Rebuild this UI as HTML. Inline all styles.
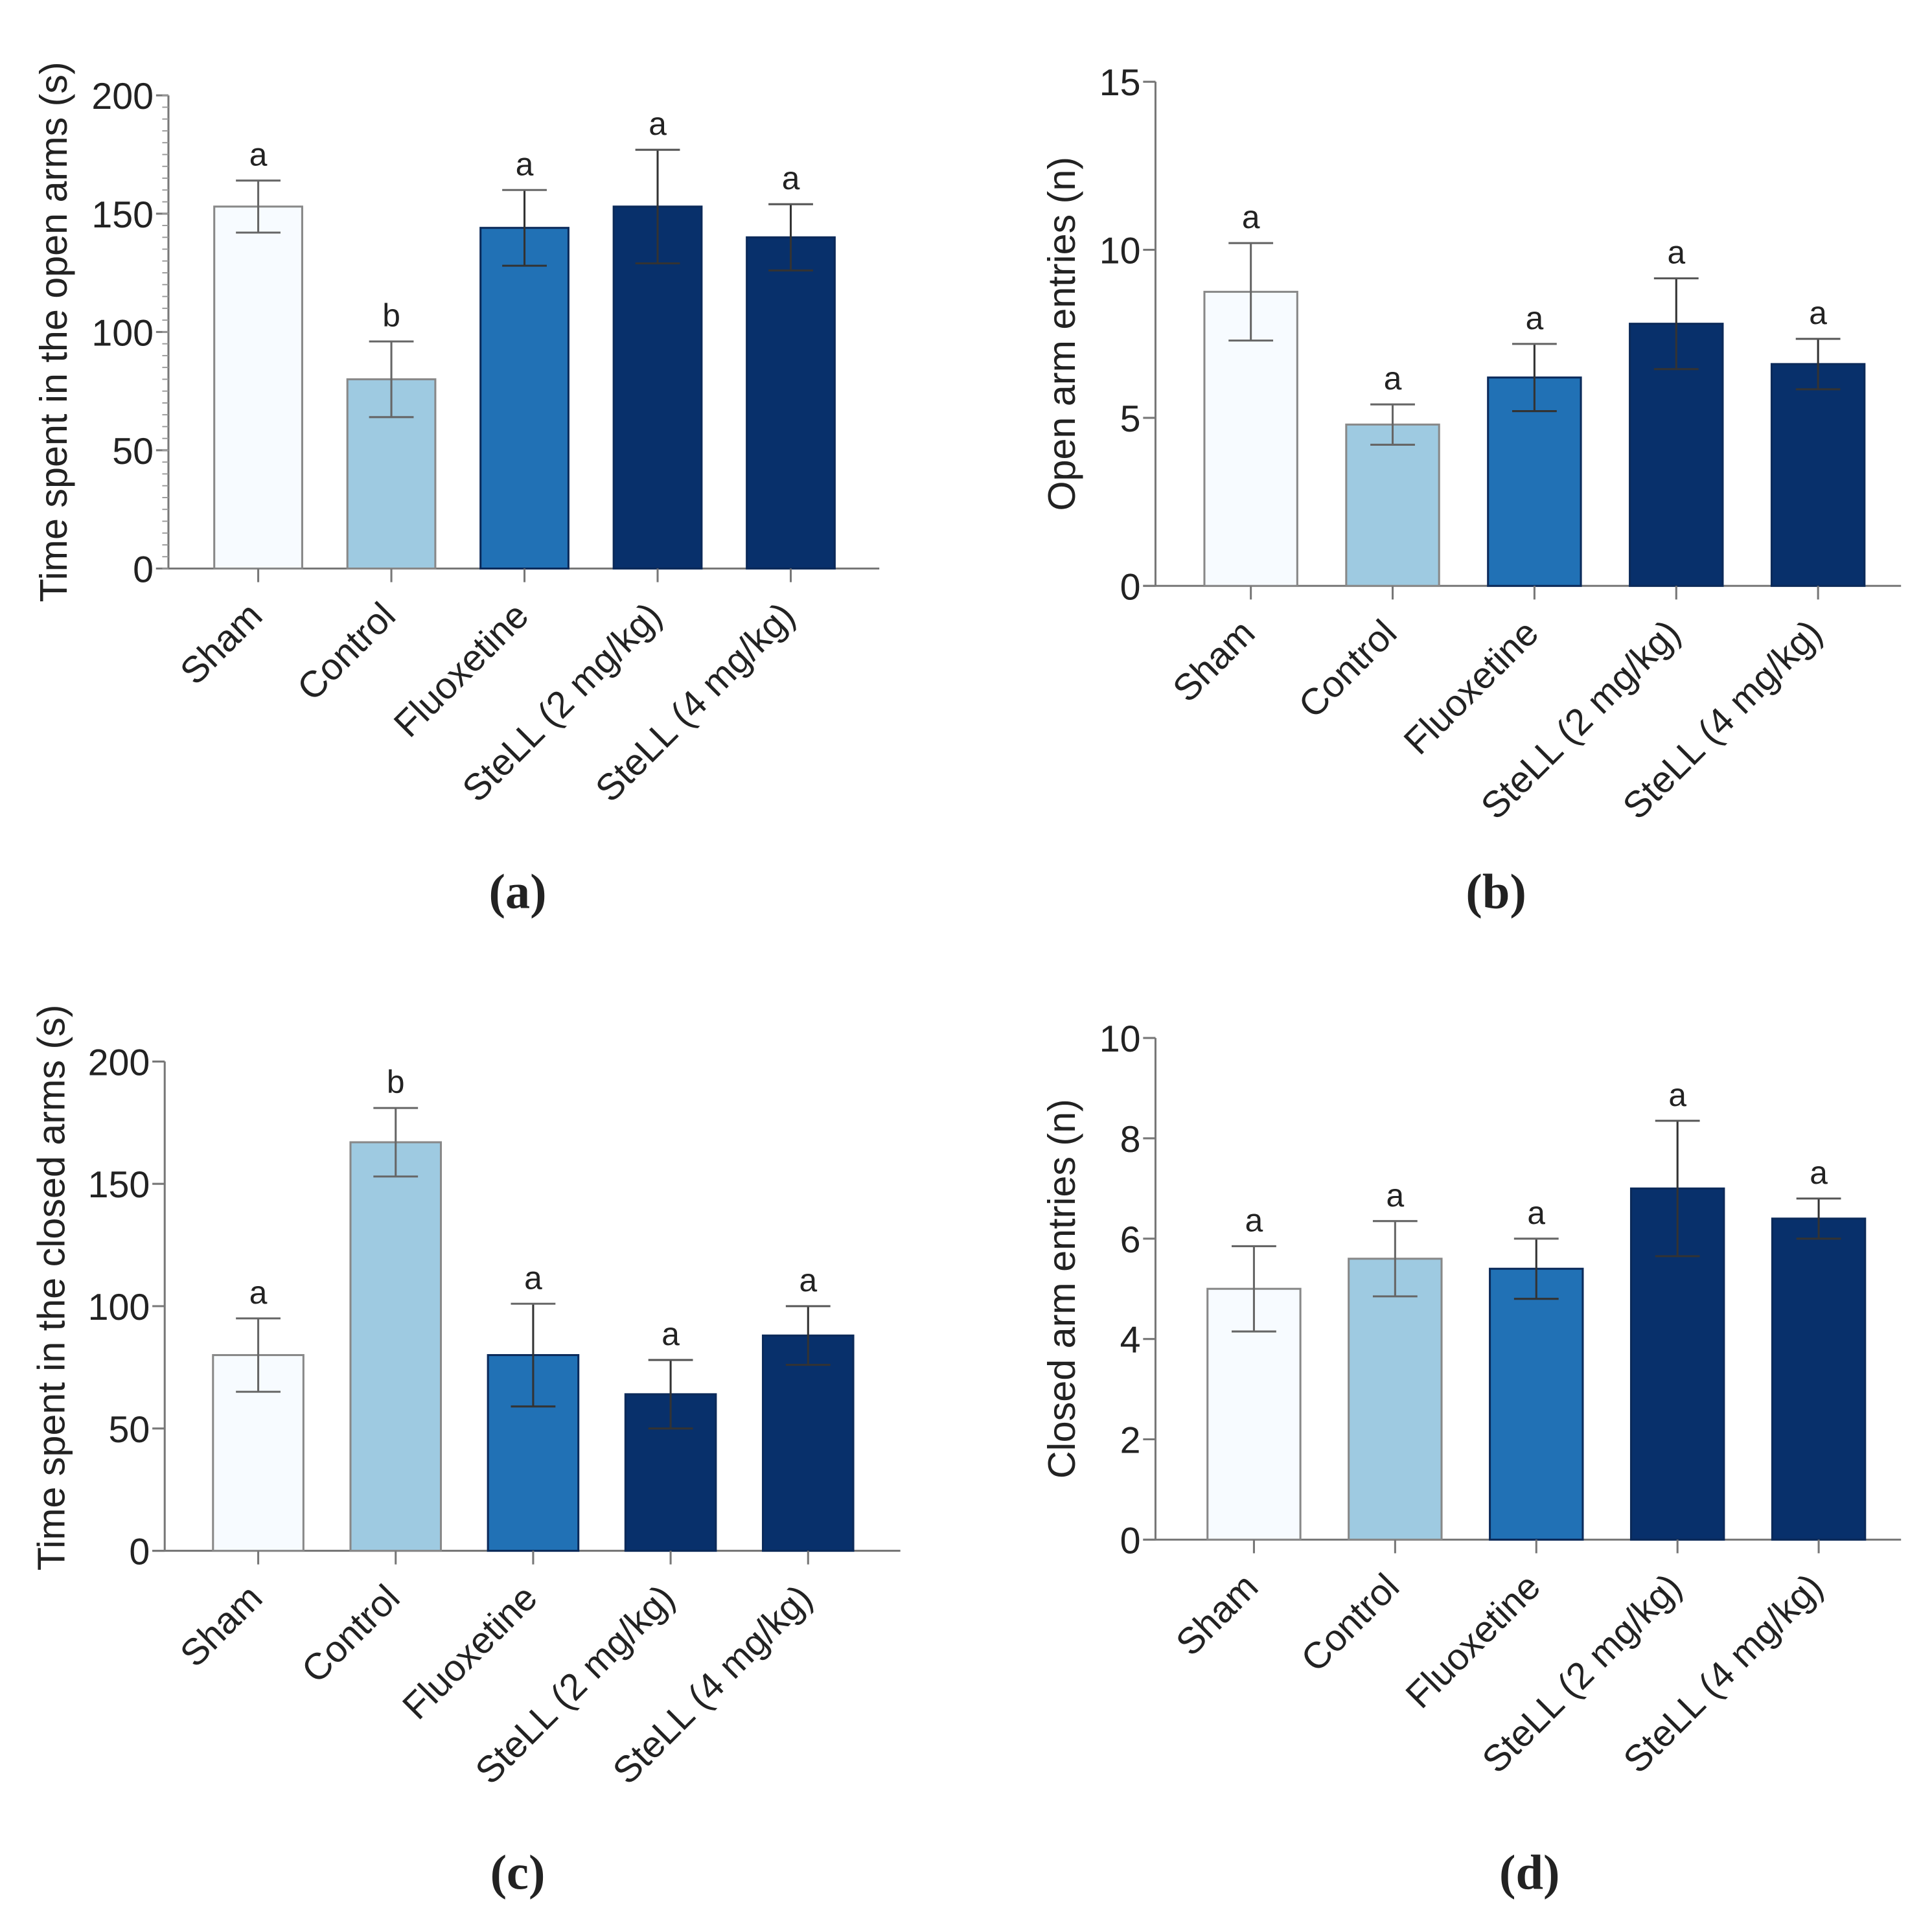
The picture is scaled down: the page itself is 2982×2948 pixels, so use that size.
<!DOCTYPE html>
<html><head><meta charset="utf-8">
<style>
html,body{margin:0;padding:0;background:#fff;}
svg{display:block;}
text{font-family:"Liberation Sans",Arial,sans-serif;fill:#222;}
</style></head>
<body>
<svg id="fig" width="2982" height="2948" viewBox="0 0 1560 1542" preserveAspectRatio="none" xmlns="http://www.w3.org/2000/svg"></svg>
<script>
const categories = ["Sham","Control","Fluoxetine","SteLL (2 mg/kg)","SteLL (4 mg/kg)"];
const colors = ["#f7fbff","#9ecae1","#2171b5","#08306b","#08306b"];
const valuesA = [153, 80, 144, 153, 140];
const errA = [11, 16, 16, 24, 14];
const lettersA = ["a","b","a","a","a"];
const ticksA = [0,50,100,150,200];
const valuesB = [8.75, 4.8, 6.2, 7.8, 6.6];
const errB = [1.45, 0.6, 1.0, 1.35, 0.75];
const lettersB = ["a","a","a","a","a"];
const ticksB = [0,5,10,15];
const valuesC = [80, 167, 80, 64, 88];
const errC = [15, 14, 21, 14, 12];
const lettersC = ["a","b","a","a","a"];
const ticksC = [0,50,100,150,200];
const valuesD = [5, 5.6, 5.4, 7, 6.4];
const errD = [0.85, 0.75, 0.6, 1.35, 0.4];
const lettersD = ["a","a","a","a","a"];
const ticksD = [0,2,4,6,8,10];

const NS="http://www.w3.org/2000/svg";
const svg=document.getElementById('fig');
function mk(tag,attrs,parent){const e=document.createElementNS(NS,tag);for(const k in attrs)e.setAttribute(k,attrs[k]);(parent||svg).appendChild(e);return e;}

function panel(p){
  const g=mk('g',{});
  
  
  const ymax=p.ticks[p.ticks.length-1];
  const y=v=>p.y0-(v/ymax)*(p.y0-p.yTop);
  const x=i=>p.firstC+i*p.spacing;
  const ya=mk('line',{x1:p.ax,y1:p.yTop,x2:p.ax,y2:p.y0,stroke:'#777','stroke-width':1.6},g);
  
  
  const xa=mk('line',{x1:p.ax-10,y1:p.y0,x2:p.xEnd,y2:p.y0,stroke:'#777','stroke-width':1.6},g);
  
  
  p.ticks.forEach(t=>{
    mk('line',{x1:p.ax-10,y1:y(t),x2:p.ax,y2:y(t),stroke:'#777','stroke-width':1.6},g);
    const tl=mk('text',{x:p.ax-12,y:y(t)+11,'text-anchor':'end','font-size':30},g);
    tl.textContent=t;
    
    
  });
  if(p.minor){
    for(let v=0;v<=ymax;v+=p.minor){
      mk('line',{x1:p.ax-5,y1:y(v),x2:p.ax,y2:y(v),stroke:'#999','stroke-width':1},g);
    }
  }
  const yt=mk('text',{x:0,y:0,'text-anchor':'middle','font-size':31,transform:`translate(${p.titleX},${(p.yTop+p.y0)/2+(p.titleDy||0)}) rotate(-90)`},g);
  yt.textContent=p.title;
  
  
  categories.forEach((c,i)=>{
    const cx=x(i);
    const bw=p.bw;
    const b=mk('rect',{x:cx-bw/2,y:y(p.values[i]),width:bw,height:p.y0-y(p.values[i]),fill:colors[i],stroke:i<2?'#888':'#0b2a5a','stroke-width':1.6},g);
    
    
    const hi=y(p.values[i]+p.err[i]), lo=y(p.values[i]-p.err[i]);
    const ec=i<2?'#666':'#333';
    mk('line',{x1:cx,y1:hi,x2:cx,y2:lo,stroke:ec,'stroke-width':1.6},g);
    mk('line',{x1:cx-18,y1:hi,x2:cx+18,y2:hi,stroke:i<3?'#666':'#555','stroke-width':1.6},g);
    mk('line',{x1:cx-18,y1:lo,x2:cx+18,y2:lo,stroke:ec,'stroke-width':1.6},g);
    const lt=mk('text',{x:cx,y:hi-12,'text-anchor':'middle','font-size':26},g);
    lt.textContent=p.letters[i];
    
    
    mk('line',{x1:cx,y1:p.y0,x2:cx,y2:p.y0+11,stroke:'#777','stroke-width':1.6},g);
    const cl=mk('text',{x:0,y:0,'text-anchor':'end','font-size':30,transform:`translate(${cx+5},${p.y0+40}) rotate(-45)`},g);
    cl.textContent=c;
    
    
  });
  const pl=mk('text',{x:p.labX,y:p.labY,'text-anchor':'middle','font-size':40,'font-weight':'bold',style:'font-family:"Liberation Serif",serif'},g);
  pl.textContent='('+p.id+')';
  
  
}

panel({id:'a',ax:136,yTop:77,y0:459,xEnd:710,firstC:208.5,spacing:107.5,bw:71,ticks:ticksA,minor:5,values:valuesA,err:errA,letters:lettersA,title:'Time spent in the open arms (s)',titleX:54,labX:418,labY:733});
panel({id:'b',ax:933,yTop:66,y0:473,xEnd:1535,firstC:1010,spacing:114.5,bw:75,ticks:ticksB,values:valuesB,err:errB,letters:lettersB,title:'Open arm entries (n)',titleX:868,labX:1208,labY:733});
panel({id:'c',ax:133,yTop:857,y0:1252,xEnd:727,firstC:208.5,spacing:111,bw:73,ticks:ticksC,values:valuesC,err:errC,letters:lettersC,title:'Time spent in the closed arms (s)',titleX:52,titleDy:-15,labX:418,labY:1525});
panel({id:'d',ax:933,yTop:838,y0:1243,xEnd:1535,firstC:1012.5,spacing:114,bw:75,ticks:ticksD,values:valuesD,err:errD,letters:lettersD,title:'Closed arm entries (n)',titleX:868,labX:1235,labY:1525});
</script>
</body></html>
